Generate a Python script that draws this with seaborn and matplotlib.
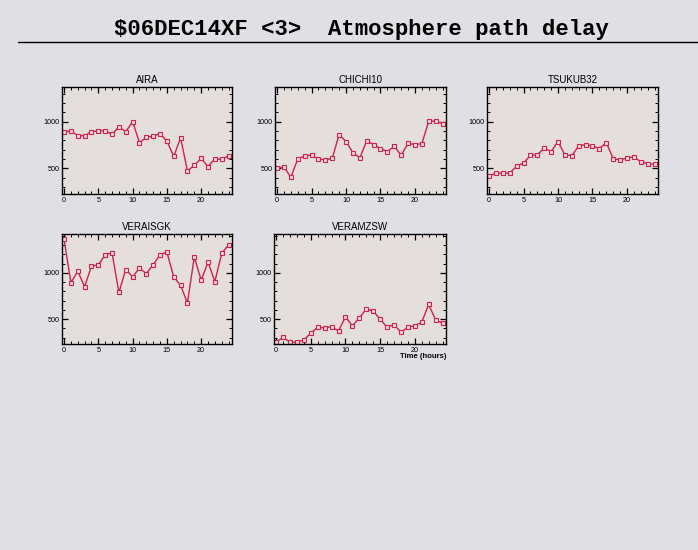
import matplotlib
matplotlib.use("Agg")
import matplotlib.pyplot as plt
import seaborn as sns
import pandas as pd
from matplotlib.ticker import MultipleLocator
from matplotlib.lines import Line2D

hours = list(range(25))
stations = ["AIRA", "CHICHI10", "TSUKUB32", "VERAISGK", "VERAMZSW"]

aira = [887, 901, 849, 849, 891, 901, 901, 863, 944, 891, 1000, 775, 831, 845, 870,
        792, 627, 824, 472, 532, 606, 518, 602, 595, 634]
chichi10 = [504, 514, 404, 600, 632, 643, 600, 589, 607, 861, 786, 668, 611, 793, 754,
            711, 679, 736, 639, 768, 754, 764, 1004, 1004, 979]
tsukub32 = [418, 450, 446, 450, 521, 557, 639, 643, 718, 679, 786, 643, 636, 739, 754,
            739, 711, 775, 604, 589, 611, 621, 571, 550, 543]
veraisgk = [1362, 895, 1018, 851, 1072, 1087, 1196, 1217, 789, 1036, 957, 1051, 993, 1087,
            1196, 1225, 957, 866, 674, 1174, 920, 1116, 906, 1210, 1304]
veramzsw = [250, 304, 254, 250, 275, 348, 413, 406, 420, 373, 525, 428, 514, 609, 587,
            500, 413, 442, 359, 413, 428, 467, 659, 493, 456]

series = [aira, chichi10, tsukub32, veraisgk, veramzsw]
title_text = "$06DEC14XF <3>  Atmosphere path delay"
xlabel_text = "Time (hours)"
xticks = [0, 5, 10, 15, 20]
yticks = [500, 1000]

sns.set_style("ticks")
plt.rcParams["font.family"] = ["Liberation Sans", "DejaVu Sans"]
plt.rcParams["text.color"] = "black"

W, H = 698, 550
fig = plt.figure(figsize=(W / 100, H / 100), dpi=100)
fig.patch.set_facecolor("#dfdfe4")

# axes rectangles in pixels: (x0, y0_top, x1, y1_bottom)
rects = [(62, 87, 232, 194), (275, 87, 446, 194), (487, 87, 658, 194),
         (62, 234, 232, 344), (274, 234, 446, 344)]
ylims = [(225, 1370), (225, 1370), (225, 1370), (232, 1420), (232, 1420)]

line_color = "#d2204c"
for name, vals, r, yl in zip(stations, series, rects, ylims):
    x0, yt, x1, yb = r
    ax = fig.add_axes([x0 / W, 1 - yb / H, (x1 - x0) / W, (yb - yt) / H])
    ax.set_facecolor("#e4dfdc")
    df = pd.DataFrame({"hour": hours, "delay": vals})
    sns.lineplot(data=df, x="hour", y="delay", ax=ax, color=line_color, lw=1.0,
                 marker="s", markersize=3.4, markerfacecolor="#ecd8de",
                 markeredgecolor=line_color, markeredgewidth=0.8)
    ax.set_xlim(-0.3, 24.5)
    ax.set_ylim(*yl)
    ax.set_xticks(xticks)
    ax.set_yticks(yticks)
    ax.xaxis.set_minor_locator(MultipleLocator(1))
    ax.yaxis.set_minor_locator(MultipleLocator(100))
    ax.tick_params(which="both", direction="in", top=True, right=True,
                   colors="black", labelsize=5.2, pad=2)
    ax.tick_params(which="major", length=4, width=0.9)
    ax.tick_params(which="minor", length=2, width=0.7)
    for s in ax.spines.values():
        s.set_visible(True)
        s.set_color("black")
        s.set_linewidth(1.0)
    ax.set_xlabel("")
    ax.set_ylabel("")
    ax.set_title(name, fontsize=7, pad=3, color="black")

fig.text(446 / W, 1 - 357 / H, xlabel_text, ha="right", va="center",
         fontsize=5.5, fontweight="bold", color="black")
fig.text(361 / W, 1 - 29 / H, title_text, ha="center", va="center", color="black",
         fontsize=16, fontweight="bold", family=["Liberation Mono", "DejaVu Sans Mono"])
fig.add_artist(Line2D([18 / W, 1.0], [1 - 42 / H, 1 - 42 / H], color="black", lw=1.0,
                      transform=fig.transFigure))

fig.savefig("out.png", dpi=100, facecolor=fig.get_facecolor())
